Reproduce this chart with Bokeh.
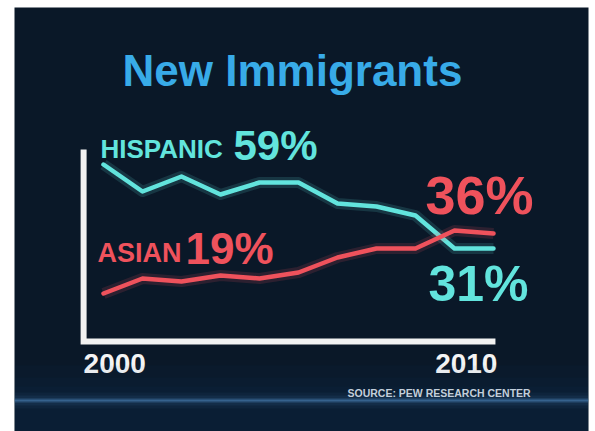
from bokeh.plotting import figure
from bokeh.models import Label, BoxAnnotation, Span
from bokeh.core.properties import value
from bokeh.embed import file_html
from bokeh.resources import INLINE

# ---- data (share of new immigrants, %) ----
years = [2000, 2001, 2002, 2003, 2004, 2005, 2006, 2007, 2008, 2009, 2010]
hispanic = [59, 50, 55, 49, 53, 53, 46, 45, 42, 31, 31]
asian = [16, 21, 20, 22, 21, 23, 28, 31, 31, 37, 36]
series_names = ["HISPANIC", "ASIAN"]
start_labels = ["59%", "19%"]
end_labels = ["31%", "36%"]
year_labels = ["2000", "2010"]
title_text = "New Immigrants"
source_text = "SOURCE: PEW RESEARCH CENTER"

CYAN = "#62e4dd"
RED = "#ef525c"
BG = "#0a1828"
FONT = "Liberation Sans"

p = figure(width=595, height=431, output_backend="svg", toolbar_location=None,
           x_axis_type=None, y_axis_type=None,
           x_range=(1997.718, 2012.436), y_range=(-30, 111.333),
           min_border_left=14, min_border_right=7, min_border_top=7, min_border_bottom=0,
           border_fill_color="white", background_fill_color=BG, outline_line_color=None)
p.grid.visible = False

# soft bluish glow towards the bottom
for top, alpha in [(-8, 0.05), (-12, 0.05), (-15, 0.05)]:
    p.add_layout(BoxAnnotation(top=top, fill_color="#1a4c80", fill_alpha=alpha, line_color=None))
for w, a in [(16, 0.05), (10, 0.08), (5, 0.15), (2, 0.4)]:
    p.add_layout(Span(location=-19.7, dimension="width", line_color="#5a9ad8", line_alpha=a, line_width=w))

# L-shaped white axis
x0 = years[0] - 0.51
x1 = years[-1] + 0.05
p.line(x=[x0, x0, x1], y=[64, 0, 0], line_color="#f2f2f2", line_width=6, line_join="miter")

# data lines with a soft glow
for vals, col in [(hispanic, CYAN), (asian, RED)]:
    p.line(x=years, y=vals, line_color=col, line_width=11, line_alpha=0.15, line_join="round")
    p.line(x=years, y=vals, line_color=col, line_width=4.5, line_join="round", line_cap="round")

def lab(x, y, txt, dx, dy, size, color, align="left"):
    p.text(x=x, y=y, text=txt, x_offset=dx, y_offset=dy, text_align=align,
           text_font=value(FONT), text_font_style="bold", text_font_size=size,
           text_color=color, text_baseline="alphabetic")

# series labels at the start
lab([years[0]], [hispanic[0]], [series_names[0]], -3, -15, "26px", CYAN)
lab([years[0]], [hispanic[0]], [start_labels[0]], 130, -19, "42px", CYAN)
lab([years[0]], [asian[0]], [series_names[1]], -6, -40, "27px", RED)
lab([years[0]], [asian[0]], [start_labels[1]], 82, -45, "44px", RED)

# end labels
lab([years[-1]], [asian[-1]], [end_labels[1]], -68, -38, "54px", RED)
lab([years[-1]], [hispanic[-1]], [end_labels[0]], -65, 36, "50px", CYAN)

# year labels under the axis
p.text(x=[x0, x1], y=[0, 0], text=year_labels, x_offset=[0, 2], y_offset=22,
       text_align=["left", "right"],
       text_font=value(FONT), text_font_style="bold", text_font_size="28px",
       text_color="#f4f4f4", text_baseline="alphabetic")

# title and source
p.add_layout(Label(x=108, y=361, x_units="screen", y_units="screen", text=title_text,
                   text_font=FONT, text_font_style="bold", text_font_size="44px",
                   text_color="#38abe8", text_baseline="alphabetic"))
p.add_layout(Label(x=333, y=39, x_units="screen", y_units="screen", text=source_text,
                   text_font=FONT, text_font_style="bold", text_font_size="10.5px",
                   text_color="#c3cfdb", text_baseline="alphabetic"))

open("out.html", "w").write(file_html(p, INLINE))
